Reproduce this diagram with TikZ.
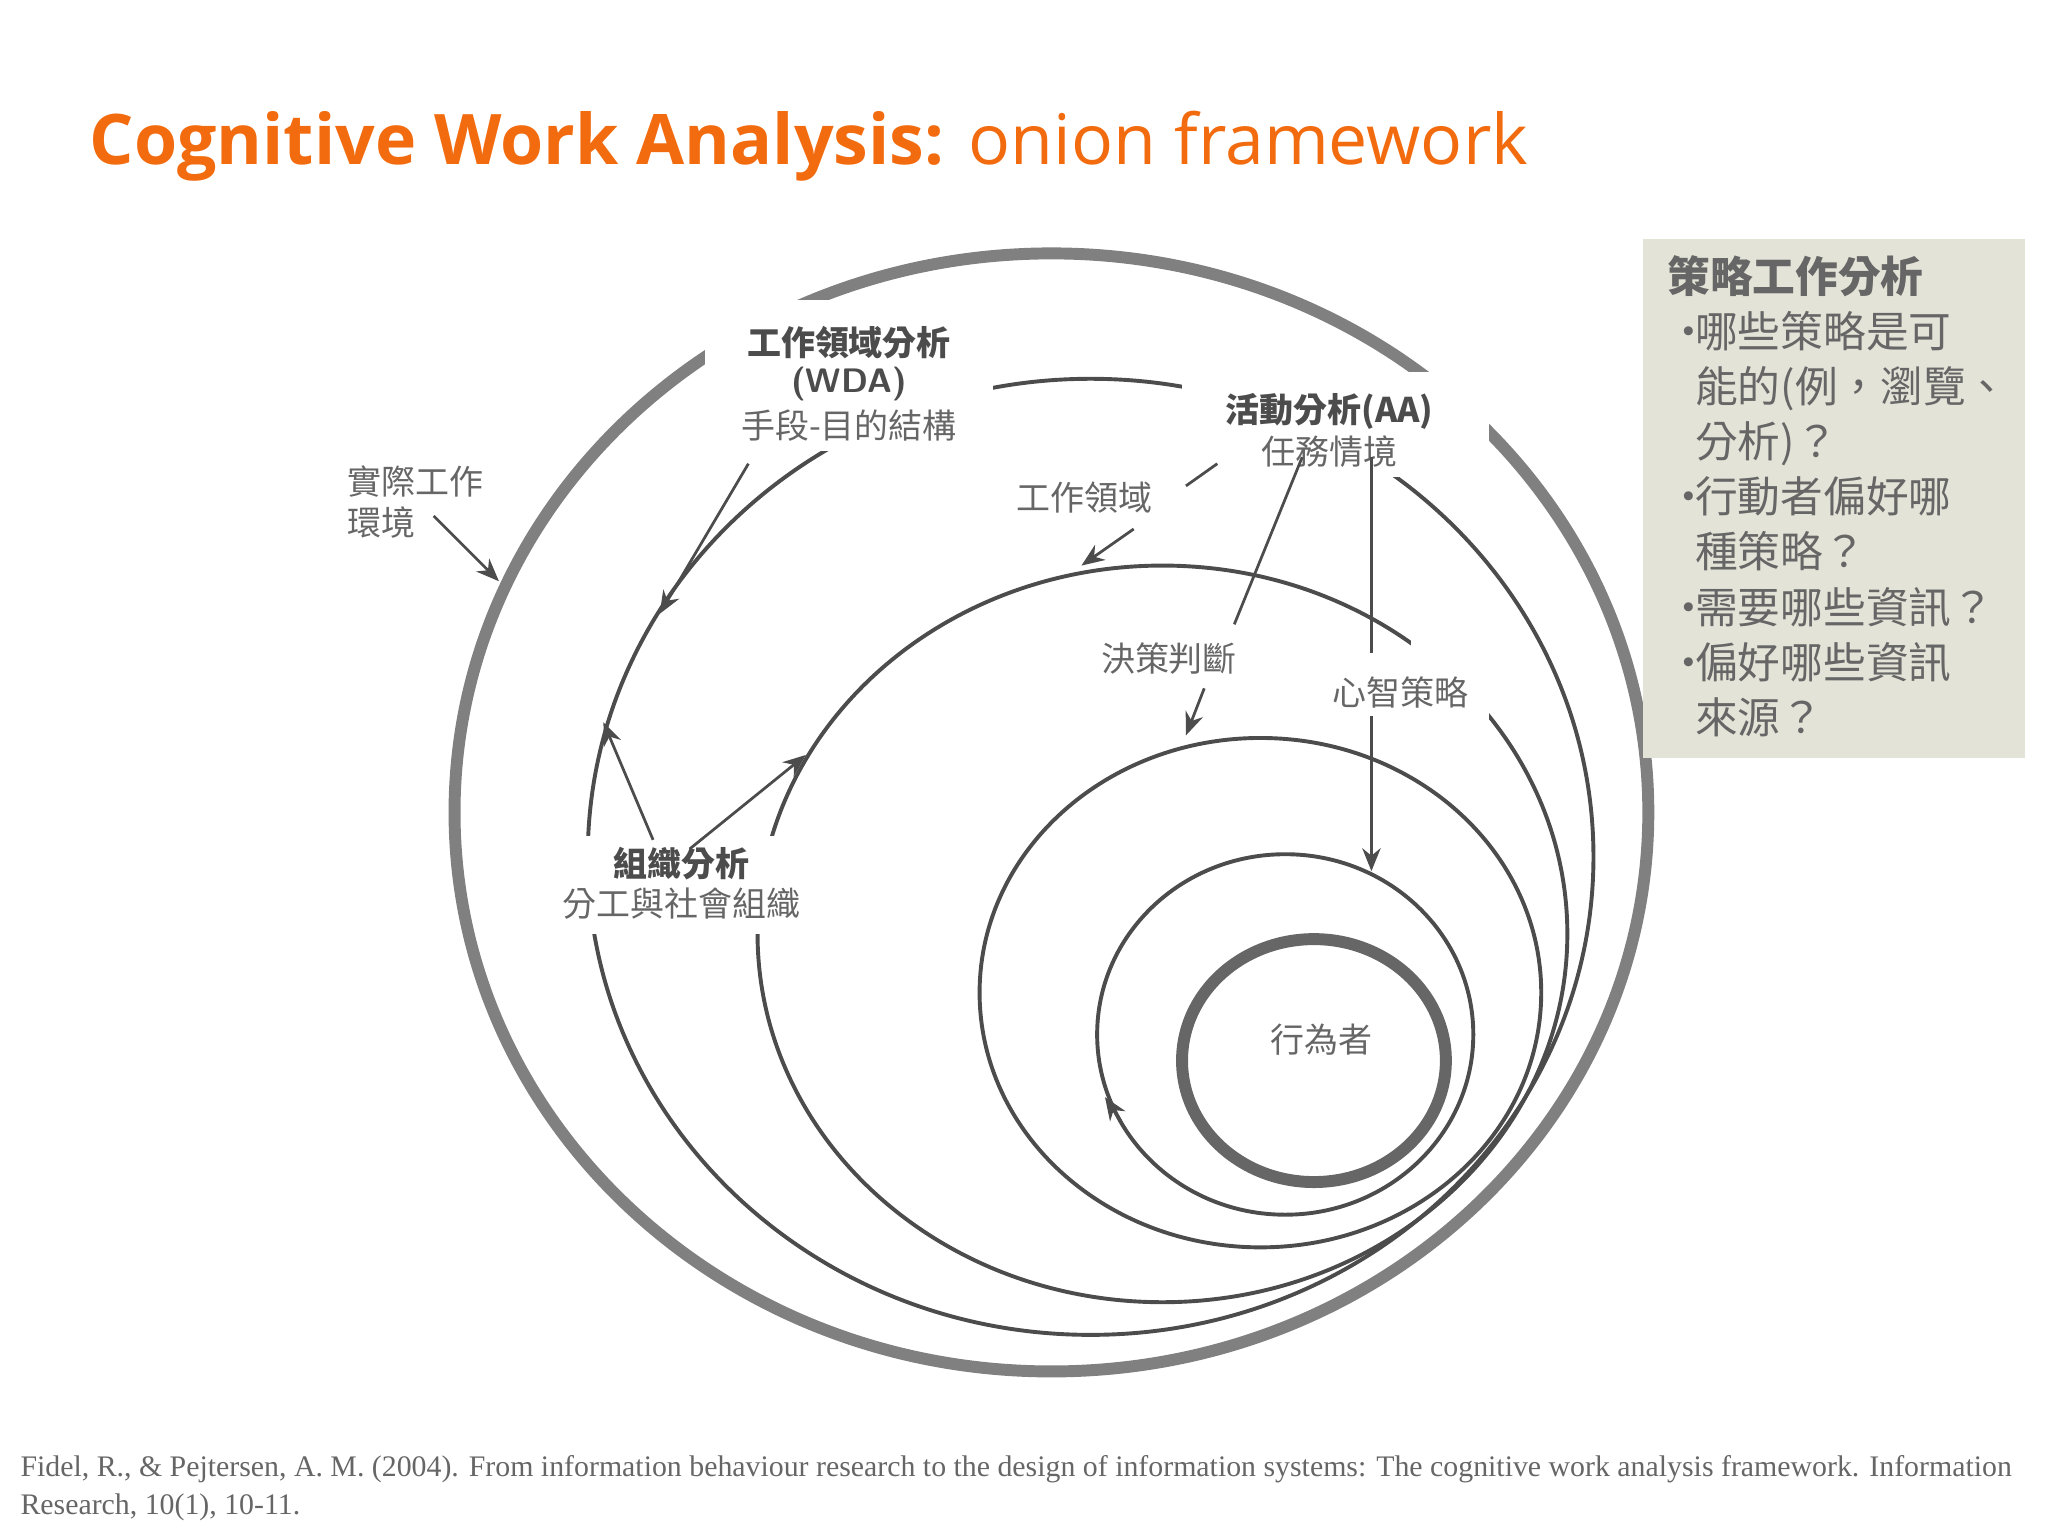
\documentclass[tikz,border=0pt]{standalone}
\usepackage{fontspec}
\setmainfont{Open Sans}
\newfontfamily\cjk{Noto Sans CJK TC}
\newfontfamily\tms{Liberation Serif}
\usetikzlibrary{arrows.meta}
\definecolor{org}{HTML}{F26B0F}
\definecolor{txt}{HTML}{666666}
\definecolor{boxbg}{HTML}{E3E3D8}
\tikzset{
 ring/.style={draw=black!70,line width=0.85pt},
 lbl/.style={font=\cjk\fontsize{7.4}{9}\selectfont,text=txt,fill=white,inner sep=1pt,align=center},
 lblb/.style={lbl,font=\cjk\bfseries\fontsize{7.4}{9}\selectfont,text=black!70},
 arr/.style={draw=black!70,line width=0.6pt,-{Stealth[length=5pt,width=4pt]}},
 ln/.style={draw=black!70,line width=0.6pt}
}
\newcommand{\bul}{\makebox[0.65em][l]{•}}
\newcommand{\ind}{\hspace*{0.65em}}
\begin{document}
\begin{tikzpicture}[x=0.1mm,y=-0.1mm]
\useasboundingbox (0,0) rectangle (1568,1176);
% title
\node[anchor=base west,inner sep=0,font=\fontsize{15.2}{18}\selectfont,text=org] (title) at (68,126)
 {\textbf{Cognitive Work Analysis:} onion framework};
% rings
\draw[draw=black!50,line width=2.6pt] (805,622) ellipse [x radius=457,y radius=428];
\draw[ring] (835,656) ellipse [x radius=385,y radius=366];
\draw[ring] (890,715) ellipse [x radius=310,y radius=282];
\draw[ring] (965,760) ellipse [x radius=215,y radius=195];
\draw[ring] (984,792) ellipse [x radius=144,y radius=138];
\draw[draw=black!60,line width=2.6pt] (1006,812) ellipse [x radius=101,y radius=93];
% gaps in rings
\fill[white] (540,230) rectangle (760,345);
\fill[white] (905,285) rectangle (1140,365);
\fill[white] (430,640) rectangle (620,715);
\fill[white] (1080,480) rectangle (1140,560);
% labels
\node[lblb] (wda) at (650,262) {工作領域分析};
\node[lblb,font=\sffamily\bfseries\fontsize{7.4}{9}\selectfont] (wda2) at (650,294) {(WDA)};
\node[lbl] (wda3) at (650,326) {手段-目的結構};
\node[lblb] (aa) at (1018,315) {活動分析(AA)};
\node[lbl] (aa2) at (1018,346) {任務情境};
\node[lbl,align=left,anchor=north west] (env) at (262,352) {實際工作\\環境};
\node[lbl] (wd) at (830,381) {工作領域};
\node[lbl] (dj) at (895,504) {決策判斷};
\node[lbl] (ms) at (1072,530) {心智策略};
\node[lblb] (org1) at (522,661) {組織分析};
\node[lbl] (org2) at (522,692) {分工與社會組織};
\node[lbl,fill=none] (act) at (1012,796) {行為者};
% connectors
\coordinate (e0) at (332,395); \coordinate (e1) at (382,445);
\draw[arr] (e0) -- (e1);
\coordinate (w0) at (573,355); \coordinate (w1) at (505,470);
\draw[arr] (w0) -- (w1);
\coordinate (wa) at (932,355); \coordinate (wb) at (908,372);
\draw[ln] (wa) -- (wb);
\coordinate (wc) at (868,405); \coordinate (wd2) at (828,433);
\draw[arr] (wc) -- (wd2);
\coordinate (t0) at (997,350); \coordinate (t1) at (945,478);
\draw[ln] (t0) -- (t1);
\coordinate (d0) at (922,527); \coordinate (d1) at (908,563);
\draw[arr] (d0) -- (d1);
\coordinate (s0) at (1050,350); \coordinate (s1) at (1050,500);
\draw[ln] (s0) -- (s1);
\coordinate (m0) at (1050,548); \coordinate (m1) at (1050,667);
\draw[arr] (m0) -- (m1);
\coordinate (o0) at (500,643); \coordinate (o1) at (462,553);
\coordinate (o3) at (528,650); \coordinate (o2) at (617,578);
\draw[arr] (o0) -- (o1);
\draw[arr] (o3) -- (o2);
\coordinate (ez) at (858,858); \coordinate (ea) at (846,840);
\draw[arr] (ez) -- (ea);
% side box
\fill[boxbg] (1258,183) rectangle (1550,580);
\node[anchor=north west,inner sep=0,font=\cjk\fontsize{9.3}{12}\selectfont,text=txt,align=left] (box) at (1276,195)
{{\bfseries 策略工作分析}\\
\bul 哪些策略是可\\
\ind 能的(例，瀏覽、\\
\ind 分析)？\\
\bul 行動者偏好哪\\
\ind 種策略？\\
\bul 需要哪些資訊？\\
\bul 偏好哪些資訊\\
\ind 來源？};
% citation
\node[anchor=north west,inner sep=0,font=\tms\fontsize{6.5}{8.1}\selectfont,text=txt,align=left] (cit) at (15,1114)
{Fidel, R., \& Pejtersen, A. M. (2004). From information behaviour research to the design of information systems: The cognitive work analysis framework. Information\\Research, 10(1), 10-11.};
\end{tikzpicture}
\end{document}
